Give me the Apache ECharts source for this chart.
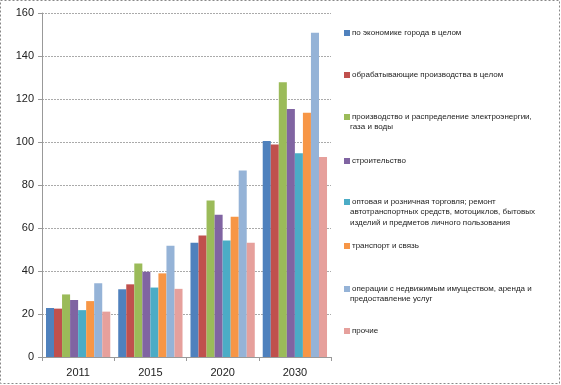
<!DOCTYPE html>
<html><head><meta charset="utf-8">
<script src="https://cdn.jsdelivr.net/npm/echarts@6/dist/echarts.min.js"></script>
<style>html,body{margin:0;padding:0;background:#fff}#c{width:561px;height:385px}</style>
</head><body><div id="c"></div>
<script>
const categories = ['2011','2015','2020','2030'];
const seriesNames = [
  'по экономике города в целом',
  'обрабатывающие производства в целом',
  'производство и распределение электроэнергии, газа и воды',
  'строительство',
  'оптовая и розничная торговля; ремонт автотранспортных средств, мотоциклов, бытовых изделий и предметов личного пользования',
  'транспорт и связь',
  'операции с недвижимым имуществом, аренда и предоставление услуг',
  'прочие'
];
const legendLines = [
  ['по экономике города в целом'],
  ['обрабатывающие производства в целом'],
  ['производство и распределение электроэнергии,', 'газа и воды'],
  ['строительство'],
  ['оптовая и розничная торговля; ремонт', 'автотранспортных средств, мотоциклов, бытовых', 'изделий и предметов личного пользования'],
  ['транспорт и связь'],
  ['операции с недвижимым имуществом, аренда и', 'предоставление услуг'],
  ['прочие']
];
const economy = [22.8, 31.5, 53.1, 100.5];
const manufacturing = [22.5, 33.8, 56.5, 98.8];
const energy = [29.1, 43.5, 72.8, 127.8];
const construction = [26.5, 39.7, 66.2, 115.4];
const trade = [21.8, 32.3, 54.2, 94.8];
const transport = [26.0, 38.9, 65.2, 113.6];
const realEstate = [34.3, 51.7, 86.7, 150.8];
const other = [21.1, 31.7, 53.1, 93.0];
const yTicks = [0, 20, 40, 60, 80, 100, 120, 140, 160];

const values = [economy, manufacturing, energy, construction, trade, transport, realEstate, other];
const colors = ['#4F81BD','#C0504D','#9BBB59','#8064A2','#4BACC6','#F79646','#95B3D7','#E6A09C'];

const chart = echarts.init(document.getElementById('c'));
const legendTops = [29, 71, 113, 157, 198, 242, 285, 327];
const textStyle = { fontSize: 8, fontFamily: 'Liberation Sans', color: '#222' };
const legends = seriesNames.map((n, i) => ({
  data: [n], left: 344, top: legendTops[i], orient: 'vertical',
  itemWidth: 6, itemHeight: 6, itemGap: 0, padding: 0,
  icon: 'rect',
  formatter: () => legendLines[i][0],
  textStyle: Object.assign({ padding: [0,0,0,-3] }, textStyle),
  selectedMode: false
}));
const extraText = [];
legendLines.forEach((lines, i) => {
  lines.slice(1).forEach((t, k) => {
    extraText.push({ type: 'text', left: 350, top: legendTops[i] + 11 * (k + 1) - 1,
      style: Object.assign({ text: t, fill: '#222', font: '8px "Liberation Sans"' }) });
  });
});
chart.setOption({
  animation: false,
  color: colors,
  graphic: [{ type: 'rect', shape: { x: 0.5, y: 0.5, width: 559, height: 383 }, style: { fill: 'none', stroke: '#888', lineDash: [2, 2], lineWidth: 1 } }].concat(extraText),
  legend: legends,
  grid: { left: 42, right: 230, top: 13, bottom: 28, containLabel: false },
  xAxis: {
    type: 'category', data: categories,
    axisLine: { lineStyle: { color: '#999' } },
    axisTick: { show: true, lineStyle: { color: '#999' }, length: 4 },
    axisLabel: { fontSize: 11, fontFamily: 'Liberation Sans', color: '#222', margin: 10 }
  },
  yAxis: {
    type: 'value', min: yTicks[0], max: yTicks[yTicks.length - 1], interval: 20,
    axisLine: { show: true, lineStyle: { color: '#999' } },
    axisTick: { show: true, lineStyle: { color: '#999' }, length: 4 },
    axisLabel: { fontSize: 11, fontFamily: 'Liberation Sans', color: '#222', margin: 8 },
    splitLine: { lineStyle: { color: '#aaa', type: [2, 1] } }
  },
  series: seriesNames.map((n, i) => ({
    name: n, type: 'bar', data: values[i],
    barGap: '0%', barCategoryGap: '11%',
    itemStyle: { color: colors[i] }
  }))
});
</script></body></html>
